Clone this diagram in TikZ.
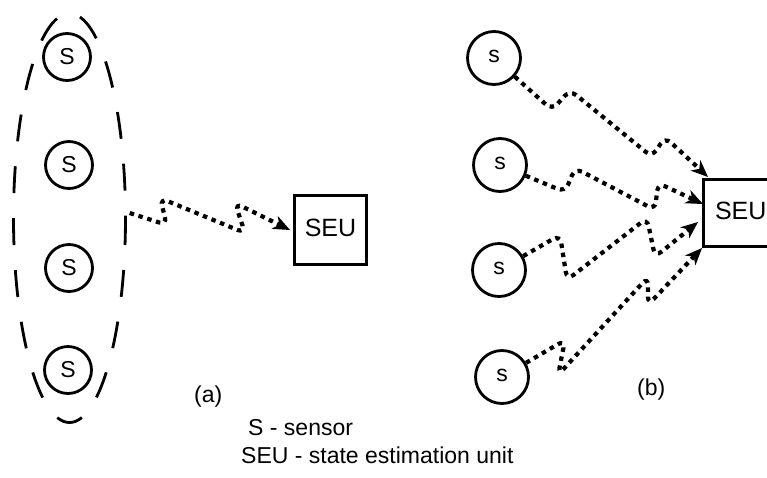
\documentclass[tikz,border=0pt]{standalone}
\usepackage{fontspec}
\setmainfont{Liberation Sans}
\usetikzlibrary{shapes.geometric,arrows.meta,calc}
\begin{document}
\begin{tikzpicture}[x=1pt,y=-1pt,
  sensor/.style={circle,draw,line width=2.8pt,minimum size=47pt,inner sep=0pt,font=\fontsize{23}{26}\selectfont},
  sensorb/.style={sensor,minimum size=53pt},
  unit/.style={draw,line width=3.4pt,inner sep=0pt,font=\fontsize{25}{28}\selectfont},
  group/.style={ellipse,inner sep=0pt},
  groupline/.style={line width=2.8pt,dash pattern=on 27pt off 25pt},
  wave/.style={line width=4.2pt,dash pattern=on 4.5pt off 4.7pt,rounded corners=8pt,-{Stealth[length=17pt,width=14pt,inset=5pt]}},
  lbl/.style={font=\fontsize{23}{26}\selectfont,inner sep=0pt}]
\useasboundingbox (0,0) rectangle (767,477);
% (a)
\node[group,minimum width=112pt,minimum height=409pt] (grp) at (69.5,218) {};
\draw[groupline] (grp.center) ellipse [x radius=56, y radius=204.5];
\node[sensor] (a1) at (67,57) {S};
\node[sensor] (a2) at (69,165) {S};
\node[sensor] (a3) at (69,268) {S};
\node[sensor] (a4) at (68,370) {S};
\node[unit,minimum width=71.5pt,minimum height=68.5pt] (seuA) at (330.5,230) {\raisebox{4pt}{SEU}};
\draw[wave] ($(grp.east)+(4,-5)$) -- (167,225) -- (160,198) -- (245,233) -- (235,203) -- ($(seuA.west)+(-3,0)$);
\node[lbl,anchor=base west] (la) at (194,402) {(a)};
% (b)
\node[sensorb] (b1) at (494,58) {\raisebox{4pt}{s}};
\node[sensorb] (b2) at (500,165) {\raisebox{4pt}{s}};
\node[sensorb] (b3) at (499,270) {\raisebox{4pt}{s}};
\node[sensorb] (b4) at (502,377) {\raisebox{4pt}{s}};
\node[unit,minimum width=74pt,minimum height=66.5pt] (seuB) at (740.75,213) {\raisebox{4pt}{SEU}};
\draw[wave] (b1) -- (552,110) -- (570,90) -- (652,157) -- (665,137) -- ($(seuB.north west)+(6,-1)$);
\draw[wave] (b2) -- (565,192) -- (575,168) -- (655,210) -- (658,183) -- ($(seuB.west)+(1,-9)$);
\draw[wave] (b3) -- (560,235) -- (567,280) -- (647,218) -- (655,257) -- ($(seuB.west)+(-4,9)$);
\draw[wave] (b4) -- (565,340) -- (558,375) -- (648,277) -- (648,305) -- ($(seuB.south west)+(0,0)$);
\node[lbl,anchor=base west] (lb) at (637,395) {(b)};
% legend
\node[lbl,anchor=base west] (leg1) at (248,435) {S - sensor};
\node[lbl,anchor=base west] (leg2) at (241,463) {SEU - state estimation unit};
\end{tikzpicture}
\end{document}
